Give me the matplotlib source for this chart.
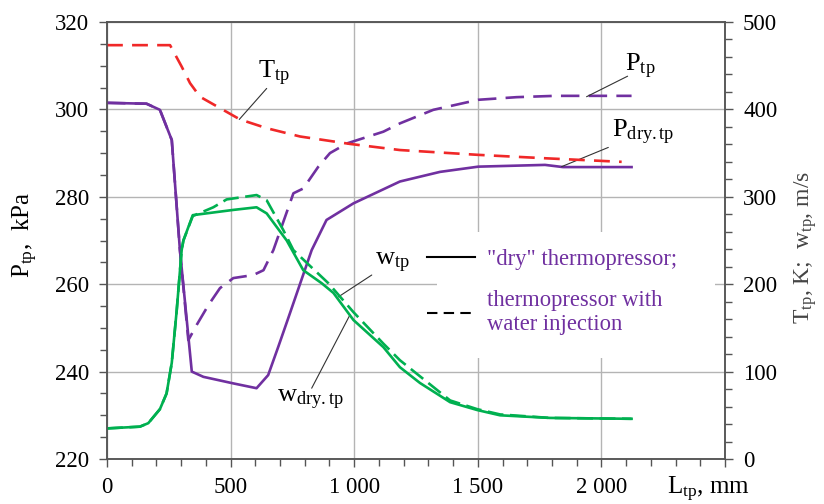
import numpy as np
import matplotlib
matplotlib.use('Agg')
import matplotlib.pyplot as plt
from matplotlib.lines import Line2D
from matplotlib.patches import Rectangle
from matplotlib.ticker import MultipleLocator, FuncFormatter

plt.rcParams['font.family'] = ['Liberation Serif', 'DejaVu Serif']
plt.rcParams['mathtext.fontset'] = 'custom'
plt.rcParams['mathtext.rm'] = 'Liberation Serif'
plt.rcParams['mathtext.it'] = 'Liberation Serif:italic'

# temperature of the flow, K (right axis)
x_T = [0, 255, 302, 336, 376, 538, 646, 781, 983, 1185, 1501, 1779, 2082]
T_tp = [473.5, 473.5, 449, 430, 414.5, 388.5, 378.5, 369, 360.5, 353.5, 348, 344, 340]

# pressure, "dry" thermopressor, kPa
x_Pdry = [0, 160, 214, 262, 295, 343, 390, 511, 605, 652, 693, 733, 828, 888, 997,
          1185, 1347, 1502, 1772, 1845, 2122]
P_dry = [301.5, 301.3, 299.9, 293, 267.8, 240, 238.8, 237.3, 236.2, 239.2, 245.7, 252.2,
         267.8, 274.7, 278.5, 283.5, 285.7, 286.9, 287.3, 286.8, 286.8]

# pressure, thermopressor with water injection, kPa
x_P = [0, 160, 214, 262, 295, 329, 363, 410, 457, 511, 592, 633, 673, 754, 794, 855, 902,
       970, 1118, 1185, 1320, 1502, 1657, 1812, 2122]
P_tp = [301.5, 301.3, 299.9, 293, 267.8, 247.2, 250.7, 255.2, 259.1, 261.4, 262.1, 263.2,
        267.8, 280.8, 281.9, 286.9, 290, 292.2, 294.9, 296.8, 299.9, 302.2, 302.8, 303.1, 303.1]

# velocity, "dry" thermopressor, m/s
x_wdry = [0, 133, 167, 214, 241, 262, 282, 302, 309, 347, 511, 605, 646, 727, 794, 869, 916,
          997, 1118, 1185, 1266, 1388, 1498, 1590, 1792, 2122]
w_dry = [35, 37, 41, 57, 75, 110, 170, 239, 250, 279, 285, 288, 281, 250, 216, 201, 190,
         159, 128, 105, 87, 65, 56, 50, 47, 46]

# velocity, with water injection, m/s
x_w = [0, 133, 167, 214, 241, 262, 282, 302, 309, 347, 430, 484, 605, 646, 713, 754, 821,
       896, 997, 1118, 1185, 1388, 1498, 1590, 1792, 2122]
w_tp = [35, 37, 41, 57, 75, 110, 170, 239, 250, 278, 288, 297, 302, 296, 262, 239, 221,
        201, 168, 132, 113, 67, 57, 51, 47, 46]

purple = '#7030A0'
green = '#00B050'
red = '#F02828'
spine_c = '#555555'

fig = plt.figure(figsize=(8.24, 5.04), dpi=100)
ax = fig.add_axes([107/824, 1-459/504, 618/824, 437/504])
ax2 = ax.twinx()

ax.set_xlim(0, 2500)
ax.set_ylim(220, 320)
ax2.set_ylim(0, 500)

ax.set_axisbelow(True)
ax.xaxis.set_major_locator(MultipleLocator(500))
ax.xaxis.set_minor_locator(MultipleLocator(100))
ax.yaxis.set_major_locator(MultipleLocator(20))
ax.yaxis.set_minor_locator(MultipleLocator(5))
ax2.yaxis.set_major_locator(MultipleLocator(100))
ax2.yaxis.set_minor_locator(MultipleLocator(20))
ax.xaxis.set_major_formatter(FuncFormatter(
    lambda v, p: '' if v > 2400 else f'{int(v):,}'.replace(',', ' ')))
ax.grid(True, which='major', color='#b4b4b4', lw=1.0)

# white area behind the legend hides the grid
ax.add_patch(Rectangle((1335, 243.1), 1126, 28.8, facecolor='white', edgecolor='none', zorder=1))

for a in (ax, ax2):
    for s in a.spines.values():
        s.set_color(spine_c)
        s.set_linewidth(1.1)
    a.tick_params(which='major', length=6, width=1, color=spine_c, labelsize=16.5, pad=7)
    a.tick_params(which='minor', length=5, width=1, color=spine_c)

ax.plot(x_Pdry, P_dry, color=purple, lw=1.9, zorder=3)
ax.plot(x_P, P_tp, color=purple, lw=1.9, ls=(0, (7, 3.5)), zorder=3)
ax2.plot(x_wdry, w_dry, color=green, lw=1.9)
ax2.plot(x_w, w_tp, color=green, lw=1.9, ls=(0, (6, 2.5)))
ax2.plot(x_T, T_tp, color=red, lw=1.9, ls=(0, (6, 3.5)))

# curve labels with leader lines
lead = dict(arrowstyle='-', color='#333333', lw=0.8, shrinkA=0, shrinkB=0)
fs = 19
ax.text(611, 307.1, r'T$_{\rm tp}$', fontsize=fs)
ax.annotate('', xy=(535, 297.7), xytext=(646, 304.8), arrowprops=lead)
ax.text(2095, 308.6, r'P$_{\rm tp}$', fontsize=fs)
ax.annotate('', xy=(1940, 302.9), xytext=(2106, 307.6), arrowprops=lead)
ax.text(2041, 293.5, r'P$_{\rm dry.tp}$', fontsize=fs)
ax.annotate('', xy=(1839, 286.9), xytext=(2028, 291.3), arrowprops=lead)
ax.text(1084, 264.4, r'w$_{\rm tp}$', fontsize=fs)
ax.annotate('', xy=(936, 257.1), xytext=(1071, 262.1), arrowprops=lead)
ax.text(688, 233.0, r'w$_{\rm dry.tp}$', fontsize=fs)
ax.annotate('', xy=(983, 253.0), xytext=(828, 236.2), arrowprops=lead)

handles = [Line2D([], [], color='black', lw=1.5),
           Line2D([], [], color='black', lw=1.5, ls=(0, (5, 3)))]
leg = ax.legend(handles, ['"dry" thermopressor;', 'thermopressor with\nwater injection'],
                loc='upper left', bbox_to_anchor=(0.485, 0.528), frameon=False,
                fontsize=16.3, labelcolor=purple, handlelength=2.1, handletextpad=0.55,
                labelspacing=0.9)
leg.set_zorder(5)

fig.text(25/824, 1-235/504, r'P$_{\rm tp}$,  kPa', rotation=90, fontsize=18,
         ha='center', va='center')
fig.text(806/824, 1-247/504, r'T$_{\rm tp}$, K;  w$_{\rm tp}$, m/s', rotation=90,
         fontsize=17, ha='center', va='center', color='#444444')
fig.text(667/824, 1-494/504, r'L$_{\rm tp}$, mm', fontsize=18, ha='left', va='baseline')

fig.savefig('out.png', dpi=100)
